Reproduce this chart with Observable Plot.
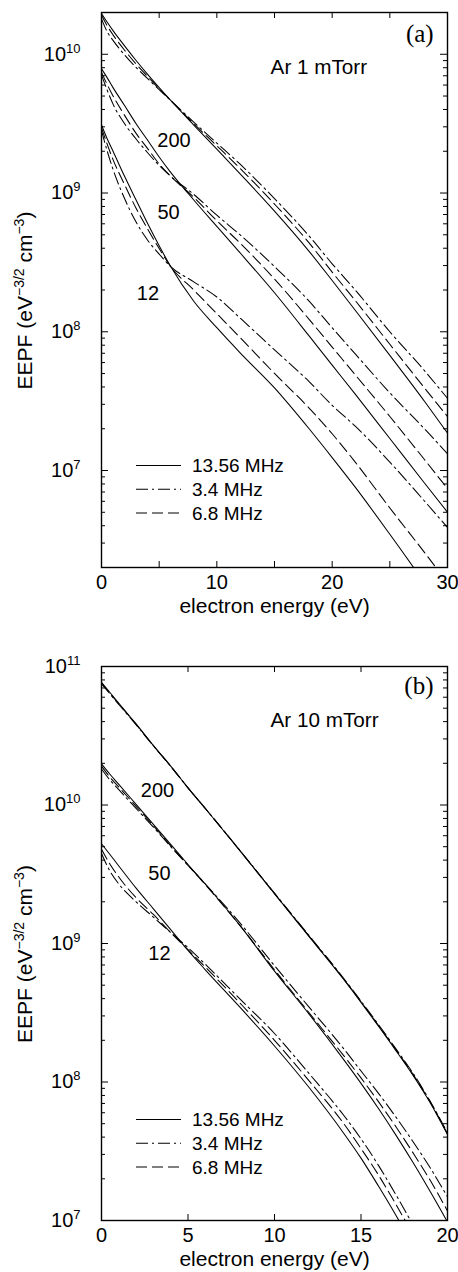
<!DOCTYPE html>
<html><head><meta charset="utf-8">
<script src="https://cdn.jsdelivr.net/npm/d3@7"></script>
<script src="https://cdn.jsdelivr.net/npm/@observablehq/plot@0.6"></script>
<style>
body{margin:0;background:#fff;}
svg{display:block;}
</style></head><body>
<script>
// ---------- data: panel (a) Ar 1 mTorr ----------
const energyA = [0,0.5,1,2,3,4,5,6,8,10,12,15,18,20,22,25,28,30];
const a200_1356 = [1.97e10,1.70e10,1.48e10,1.15e10,9.02e9,7.16e9,5.75e9,4.65e9,3.09e9,2.07e9,1.38e9,7.41e8,3.80e8,2.34e8,1.43e8,6.76e7,3.16e7,1.86e7];
const a200_34   = [1.80e10,1.45e10,1.26e10,9.89e9,8.04e9,6.68e9,5.56e9,4.65e9,3.24e9,2.29e9,1.62e9,9.12e8,4.90e8,3.09e8,2.00e8,1.00e8,5.25e7,3.31e7];
const a200_68   = [1.91e10,1.60e10,1.38e10,1.07e10,8.51e9,6.92e9,5.62e9,4.65e9,3.16e9,2.19e9,1.51e9,8.32e8,4.37e8,2.69e8,1.68e8,8.13e7,3.94e7,2.45e7];
const a50_1356  = [7.85e9,6.76e9,5.75e9,4.27e9,3.16e9,2.40e9,1.82e9,1.41e9,8.91e8,5.75e8,3.72e8,1.91e8,9.33e7,5.75e7,3.55e7,1.70e7,8.13e6,5.01e6];
const a50_34    = [7.08e9,5.50e9,4.37e9,3.16e9,2.45e9,1.95e9,1.58e9,1.32e9,9.77e8,6.92e8,5.01e8,2.95e8,1.66e8,1.07e8,6.92e7,3.63e7,2.00e7,1.32e7];
const a50_68    = [7.41e9,6.03e9,5.01e9,3.63e9,2.69e9,2.09e9,1.62e9,1.32e9,9.33e8,6.31e8,4.37e8,2.40e8,1.23e8,7.76e7,4.90e7,2.45e7,1.20e7,7.41e6];
const a12_1356  = [3.09e9,2.45e9,2.00e9,1.32e9,8.91e8,6.03e8,4.17e8,2.95e8,1.66e8,1.07e8,7.08e7,3.94e7,2.00e7,1.24e7,7.59e6,3.47e6,1.55e6,8.91e5];
const a12_34    = [2.82e9,2.00e9,1.48e9,9.12e8,6.17e8,4.57e8,3.63e8,2.95e8,2.29e8,1.78e8,1.26e8,7.41e7,4.37e7,2.95e7,2.09e7,1.15e7,6.03e6,3.89e6];
const a12_68    = [2.95e9,2.24e9,1.74e9,1.15e9,7.76e8,5.50e8,3.98e8,2.95e8,2.00e8,1.35e8,9.12e7,5.01e7,2.82e7,1.84e7,1.15e7,5.37e6,2.57e6,1.55e6];

// ---------- data: panel (b) Ar 10 mTorr ----------
const energyB = [0,0.5,1,2,3,4,5,6,8,10,12,14,15,16,17,18,19,20];
const b200_1356 = [7.67e10,6.46e10,5.43e10,3.85e10,2.69e10,1.91e10,1.33e10,9.44e9,4.68e9,2.29e9,1.12e9,5.50e8,3.76e8,2.54e8,1.70e8,1.12e8,7.08e7,4.17e7];
const b200_34   = [7.50e10,6.31e10,5.33e10,3.80e10,2.67e10,1.90e10,1.33e10,9.46e9,4.70e9,2.31e9,1.14e9,5.60e8,3.84e8,2.61e8,1.75e8,1.16e8,7.25e7,4.30e7];
const b200_68   = [7.59e10,6.38e10,5.37e10,3.82e10,2.68e10,1.91e10,1.33e10,9.44e9,4.68e9,2.29e9,1.13e9,5.55e8,3.80e8,2.57e8,1.72e8,1.14e8,7.16e7,4.22e7];
const b50_1356  = [1.98e10,1.66e10,1.41e10,1.01e10,7.24e9,5.19e9,3.72e9,2.69e9,1.35e9,6.31e8,3.09e8,1.45e8,9.77e7,6.46e7,4.17e7,2.63e7,1.62e7,9.77e6];
const b50_34    = [1.82e10,1.51e10,1.29e10,9.44e9,6.92e9,5.01e9,3.67e9,2.69e9,1.41e9,6.92e8,3.47e8,1.74e8,1.20e8,8.32e7,5.62e7,3.72e7,2.40e7,1.48e7];
const b50_68    = [1.91e10,1.58e10,1.35e10,9.77e9,7.08e9,5.07e9,3.67e9,2.66e9,1.35e9,6.46e8,3.16e8,1.55e8,1.07e8,7.24e7,4.79e7,3.09e7,1.95e7,1.17e7];
const b12_1356  = [5.25e9,4.37e9,3.63e9,2.51e9,1.78e9,1.26e9,8.91e8,6.46e8,3.47e8,1.82e8,9.12e7,4.27e7,2.82e7,1.78e7,1.10e7,6.61e6,3.98e6,2.40e6];
const b12_34    = [4.47e9,3.31e9,2.69e9,2.00e9,1.55e9,1.20e9,9.33e8,7.08e8,3.98e8,2.24e8,1.15e8,5.75e7,3.89e7,2.51e7,1.55e7,9.33e6,5.62e6,3.39e6];
const b12_68    = [4.79e9,3.72e9,3.02e9,2.14e9,1.62e9,1.20e9,9.02e8,6.76e8,3.72e8,2.00e8,1.02e8,5.01e7,3.31e7,2.14e7,1.32e7,7.94e6,4.79e6,2.88e6];

// ---------- labels / ticks ----------
const frequencies = ["13.56 MHz", "3.4 MHz", "6.8 MHz"];
const powers = ["200", "50", "12"];
const xTicksA = [0, 10, 20, 30];
const xTickMarksA = [0, 5, 10, 15, 20, 25, 30];
const xTicksB = [0, 5, 10, 15, 20];
const yTicksA = [1e7, 1e8, 1e9, 1e10];
const yTicksB = [1e7, 1e8, 1e9, 1e10, 1e11];
const xTitle = "electron energy (eV)";

const FONT = "'Liberation Sans', Arial, Helvetica, sans-serif";
const SERIF = "'Liberation Serif', 'Times New Roman', serif";
const dashes = {"13.56 MHz": null, "3.4 MHz": "12,4,2,4", "6.8 MHz": "11,5"};

function buildRows(energy, table) {
  const rows = [];
  table.forEach(([power, freq, values]) => values.forEach((v, i) => rows.push({E: energy[i], f: v, power, freq})));
  return rows;
}

function minorTicks(domain) {
  const out = [];
  for (let k = Math.floor(Math.log10(domain[0])); k <= Math.ceil(Math.log10(domain[1])); k++) {
    for (let m = 2; m <= 9; m++) { const v = m * 10 ** k; if (v >= domain[0] * 0.999 && v <= domain[1] * 1.001) out.push(v); }
  }
  return out;
}

function makePanel(cfg) {
  const W = 458, H = 636, mL = 101, mR = 11;
  const plotW = W - mL - mR, plotH = H - cfg.mT - cfg.mB;
  const rows = buildRows(cfg.energy, cfg.table);
  const minor = minorTicks(cfg.yDomain);
  const svg = Plot.plot({
    width: W, height: H,
    marginLeft: mL, marginRight: mR, marginTop: cfg.mT, marginBottom: cfg.mB,
    style: {fontFamily: FONT, fontSize: "20px", background: "white", color: "black"},
    x: {domain: cfg.xDomain},
    y: {type: "log", domain: cfg.yDomain},
    marks: [
      ...frequencies.map(fq => Plot.line(rows.filter(d => d.freq === fq), {
        x: "E", y: "f", z: "power", stroke: "black", strokeWidth: 1.05,
        strokeDasharray: dashes[fq], curve: "monotone-x", clip: true
      })),
      Plot.tickY(cfg.yTicks, {y: d => d, insetRight: plotW - 7, stroke: "black"}),
      Plot.tickY(cfg.yTicks, {y: d => d, insetLeft: plotW - 7, stroke: "black"}),
      Plot.tickY(minor, {y: d => d, insetRight: plotW - 4, stroke: "black"}),
      Plot.tickY(minor, {y: d => d, insetLeft: plotW - 4, stroke: "black"}),
      Plot.tickX(cfg.xTickMarks, {x: d => d, insetTop: plotH - 6, stroke: "black"}),
      Plot.tickX(cfg.xTickMarks, {x: d => d, insetBottom: plotH - 6, stroke: "black"}),
      Plot.axisX(cfg.xTicks, {anchor: "bottom", tickSize: 0, tickPadding: 7, fontSize: 20}),
      Plot.axisY(cfg.yTicks, {anchor: "left", tickSize: 0, tickPadding: 21, fontSize: 20,
        tickFormat: d => "10^" + Math.round(Math.log10(d))}),
      Plot.text([xTitle], {text: d => d, frameAnchor: "bottom", dy: 45, fontSize: 21}),
      Plot.text(cfg.powerLabels, {x: "x", y: "y", text: "text", fontSize: 20}),
      Plot.text([cfg.gas], {x: cfg.gasPos[0], y: cfg.gasPos[1], text: d => d, textAnchor: "start", fontSize: 20.7}),
      Plot.text([cfg.tag], {x: cfg.tagPos[0], y: cfg.tagPos[1], text: d => d, textAnchor: "end", fontSize: 25, fontFamily: SERIF}),
      Plot.frame({stroke: "black", strokeWidth: 1.4})
    ]
  });
  const ns = "http://www.w3.org/2000/svg";
  // superscript exponents on y tick labels
  svg.querySelectorAll('g[aria-label="y-axis tick label"] text').forEach(t => {
    const parts = t.textContent.split("^");
    if (parts.length !== 2) return;
    t.textContent = parts[0];
    const s = document.createElementNS(ns, "tspan");
    s.setAttribute("dy", "-8");
    s.setAttribute("font-size", "13");
    s.textContent = parts[1];
    t.appendChild(s);
  });
  const sel = d3.select(svg);
  // y-axis title with superscripts
  const yt = sel.append("text")
    .attr("transform", `translate(32,${cfg.mT + plotH / 2 + 11}) rotate(-90)`)
    .attr("text-anchor", "middle").attr("font-family", FONT).attr("font-size", 21).attr("fill", "black");
  yt.append("tspan").text("EEPF (eV");
  yt.append("tspan").attr("dy", -8).attr("font-size", 14).text("\u22123/2");
  yt.append("tspan").attr("dy", 8).text(" cm");
  yt.append("tspan").attr("dy", -8).attr("font-size", 14).text("\u22123");
  yt.append("tspan").attr("dy", 8).text(")");
  // legend
  const lg = sel.append("g").attr("font-family", FONT).attr("font-size", 19).attr("text-anchor", "start");
  frequencies.forEach((fq, i) => {
    const y = cfg.mT + 453.5 + i * 23.7;
    lg.append("line").attr("x1", 136).attr("x2", 181).attr("y1", y).attr("y2", y)
      .attr("stroke", "black").attr("stroke-width", 1.05).attr("stroke-dasharray", dashes[fq]);
    lg.append("text").attr("x", 192).attr("y", y).attr("dy", "0.36em")
      .attr("text-anchor", "start").attr("fill", "black").text(fq);
  });
  return svg;
}

const panelA = makePanel({
  mT: 12, mB: 69,
  energy: energyA,
  table: [
    [powers[0], frequencies[0], a200_1356], [powers[0], frequencies[1], a200_34], [powers[0], frequencies[2], a200_68],
    [powers[1], frequencies[0], a50_1356],  [powers[1], frequencies[1], a50_34],  [powers[1], frequencies[2], a50_68],
    [powers[2], frequencies[0], a12_1356],  [powers[2], frequencies[1], a12_34],  [powers[2], frequencies[2], a12_68]
  ],
  xDomain: [0, 30], xTicks: xTicksA, xTickMarks: xTickMarksA,
  yDomain: [2e6, 2e10], yTicks: yTicksA,
  powerLabels: [{text: "200", x: 6.29, y: 2.39e9}, {text: "50", x: 5.81, y: 7.26e8}, {text: "12", x: 4.03, y: 1.87e8}],
  gas: "Ar 1 mTorr", gasPos: [14.66, 8.02e9],
  tag: "(a)", tagPos: [28.8, 1.41e10]
});

const panelB = makePanel({
  mT: 30, mB: 52,
  energy: energyB,
  table: [
    [powers[0], frequencies[0], b200_1356], [powers[0], frequencies[1], b200_34], [powers[0], frequencies[2], b200_68],
    [powers[1], frequencies[0], b50_1356],  [powers[1], frequencies[1], b50_34],  [powers[1], frequencies[2], b50_68],
    [powers[2], frequencies[0], b12_1356],  [powers[2], frequencies[1], b12_34],  [powers[2], frequencies[2], b12_68]
  ],
  xDomain: [0, 20], xTicks: xTicksB, xTickMarks: xTicksB,
  yDomain: [1e7, 1e11], yTicks: yTicksB,
  powerLabels: [{text: "200", x: 3.24, y: 1.27e10}, {text: "50", x: 3.35, y: 3.21e9}, {text: "12", x: 3.35, y: 8.51e8}],
  gas: "Ar 10 mTorr", gasPos: [9.77, 4.05e10],
  tag: "(b)", tagPos: [19.19, 7.24e10]
});

document.body.appendChild(panelA);
document.body.appendChild(panelB);
</script>
</body></html>
